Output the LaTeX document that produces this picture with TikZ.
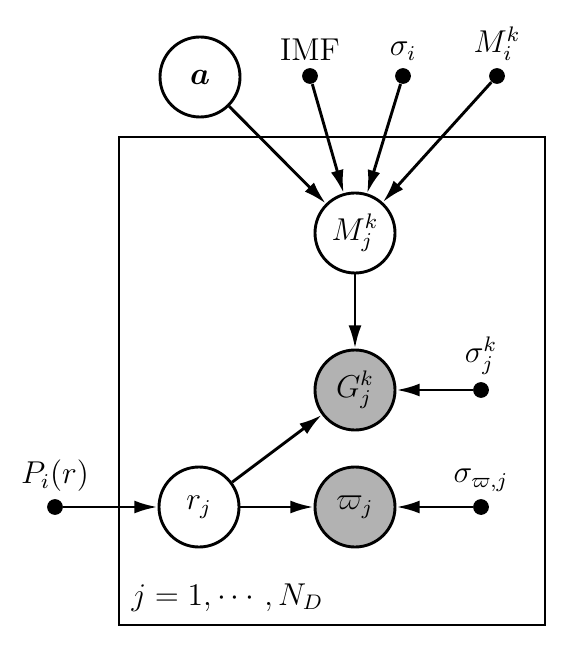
\documentclass[tikz,border=0pt]{standalone}
\usepackage{amsmath,amssymb,bm}
\usetikzlibrary{arrows.meta}
\begin{document}
\begin{tikzpicture}[x=0.38pt,y=-0.38pt,font=\large,
  var/.style={circle,draw,line width=1.1pt,minimum size=30.4pt,inner sep=0pt,fill=white},
  obs/.style={var,fill=black!30},
  dotnode/.style={circle,fill=black,minimum size=6pt,inner sep=0pt},
  lbl/.style={inner sep=2.4pt},
  edge/.style={line width=1.1pt,-{Latex[length=8.8pt,width=4.9pt]}}]
\useasboundingbox (0,0) rectangle (580,663);
\node[draw,line width=1.1pt,minimum width=426*0.38pt,minimum height=488*0.38pt,inner sep=0pt] (plate) at (332,381) {};
\node[var] (a) at (200,77) {$\bm{a}$};
\node[dotnode,label={[lbl]above:IMF}] (imf) at (310,76) {};
\node[dotnode,label={[lbl]above:$\sigma_i$}] (si) at (403,76) {};
\node[dotnode,label={[lbl]above:$M_i^k$}] (mi) at (497,76) {};
\node[var] (mj) at (355,233) {$M_j^k$};
\node[obs] (gj) at (355,390) {$G_j^k$};
\node[dotnode,label={[lbl]above:$\sigma_j^k$}] (sj) at (481,390) {};
\node[var] (rj) at (199,507) {$r_j$};
\node[obs] (wj) at (355,507) {$\varpi_j$};
\node[dotnode,label={[lbl]above:$\sigma_{\varpi,j}$}] (sw) at (481,507) {};
\node[dotnode,label={[lbl]above:$P_i(r)$}] (p) at (55,507) {};
\node[anchor=base west,inner sep=0pt] (lab) at (131,605) {$j=1,\cdots,N_D$};
\draw[edge] (a) -- (mj);
\draw[edge] (imf) -- (mj);
\draw[edge] (si) -- (mj);
\draw[edge] (mi) -- (mj);
\draw[edge] (mj) -- (gj);
\draw[edge] (sj) -- (gj);
\draw[edge] (rj) -- (gj);
\draw[edge] (rj) -- (wj);
\draw[edge] (sw) -- (wj);
\draw[edge] (p) -- (rj);
\end{tikzpicture}
\end{document}
